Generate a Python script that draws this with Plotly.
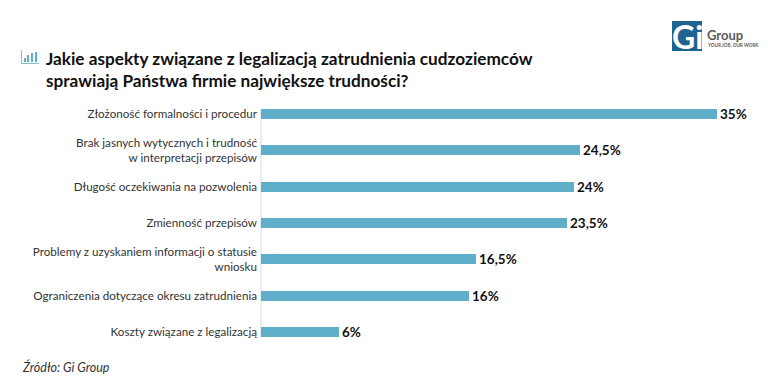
import plotly.graph_objects as go

categories = ["Złożoność formalności i procedur",
              "Brak jasnych wytycznych i trudność<br>w interpretacji przepisów",
              "Długość oczekiwania na pozwolenia",
              "Zmienność przepisów",
              "Problemy z uzyskaniem informacji o statusie<br>wniosku",
              "Ograniczenia dotyczące okresu zatrudnienia",
              "Koszty związane z legalizacją"]
values = [35, 24.5, 24, 23.5, 16.5, 16, 6]
labels = ["35%", "24,5%", "24%", "23,5%", "16,5%", "16%", "6%"]
title_lines = ["Jakie aspekty związane z legalizacją zatrudnienia cudzoziemców",
               "sprawiają Państwa firmie największe trudności?"]
source = "Źródło: Gi Group"

W, H = 768, 392
BLUE = "#5FAFCA"
FONT = "Lato"
px = lambda v: v / W
py = lambda v: 1 - v / H

fig = go.Figure(go.Bar(
    x=values, y=categories, orientation="h",
    marker=dict(color=BLUE, line=dict(width=0)), width=0.276,
    text=labels, textposition="outside", cliponaxis=False, constraintext="none",
    textfont=dict(family=FONT, size=13.5, color="#111111", weight="bold"),
    hoverinfo="skip"))

ann = []
def text(x, y, s, size, color="#111", anchor="left", **kw):
    ann.append(dict(x=px(x), y=py(y), xref="paper", yref="paper", text=s, showarrow=False,
                    xanchor=anchor, yanchor="middle", align=anchor,
                    xshift=-2, font=dict(family=FONT, size=size, color=color, **kw)))

text(46, 58, title_lines[0], 17.2, weight="bold")
text(46, 81, title_lines[1], 17.2, weight="bold")
text(22, 367, source, 12.5, color="#333", style="italic")
text(707, 35, "Group", 13, color="#5b5b5b", weight="bold")
text(707, 45, "YOUR JOB, OUR WORK", 4.6, color="#5b5b5b", weight="bold")
ann.append(dict(x=px(687), y=py(36), xref="paper", yref="paper", text="Gi", showarrow=False,
                xanchor="center", yanchor="middle",
                font=dict(family=FONT, size=32, color="white", weight="bold")))

shapes = []
def rect(x0, y0, x1, y1, color):
    shapes.append(dict(type="rect", xref="paper", yref="paper", x0=px(x0), x1=px(x1),
                       y0=py(y1), y1=py(y0), fillcolor=color, line=dict(width=0), layer="below"))
# logo tile
rect(672, 21, 702, 51, "#1F6490")
# title icon
rect(21, 50, 22, 64, "#7FC0D6")
rect(21, 63, 39, 64, "#7FC0D6")
for x0, top in [(24, 58), (27, 55), (31, 53), (35, 52)]:
    rect(x0, top, x0 + 2, 62, "#5FAFCA")
# axis line
rect(260.5, 109, 261.5, 337, "#D9D9D9")

fig.update_layout(
    width=W, height=H, autosize=False, showlegend=False, bargap=0,
    paper_bgcolor="white", plot_bgcolor="white",
    margin=dict(l=0, r=0, t=0, b=0),
    annotations=ann, shapes=shapes,
    font=dict(family=FONT),
    xaxis=dict(domain=[px(261), 1], range=[0, (W - 261) / (456 / 35)], visible=False),
    yaxis=dict(domain=[py(350.2), py(96.2)], autorange="reversed", anchor="free", position=px(261),
               showline=False, showgrid=False, ticks="", ticklabelstandoff=4,
               tickfont=dict(family=FONT, size=11.65, color="#333333")),
)
fig.write_html("out.html", config=dict(displayModeBar=False),
               post_script="document.body.style.margin='0';document.documentElement.style.overflow='hidden';")
